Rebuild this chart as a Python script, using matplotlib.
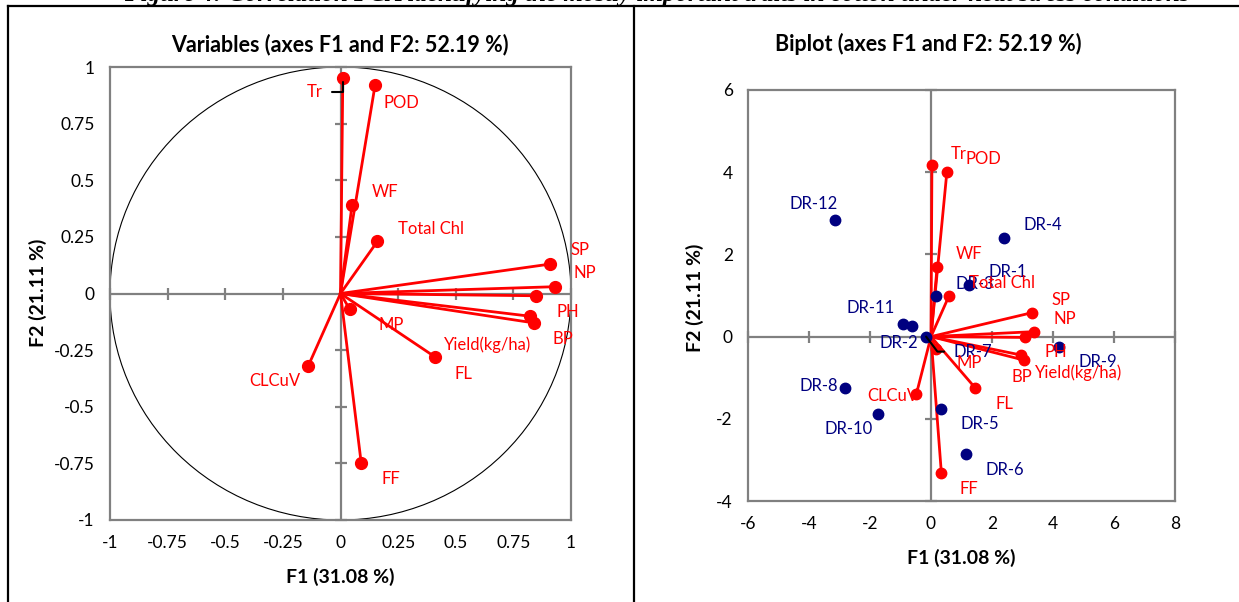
import matplotlib.pyplot as plt
import numpy as np
from matplotlib.lines import Line2D
from matplotlib.patches import Circle

plt.rcParams['font.family'] = ['Lato', 'DejaVu Sans']
plt.rcParams['axes.unicode_minus'] = False

# variable loadings (correlation circle)
variables = ['Tr', 'POD', 'WF', 'Total Chl', 'SP', 'NP', 'PH', 'BP', 'Yield(kg/ha)', 'FL', 'MP', 'CLCuV', 'FF']
f1_load = [0.01, 0.15, 0.05, 0.16, 0.91, 0.93, 0.85, 0.84, 0.82, 0.41, 0.04, -0.14, 0.09]
f2_load = [0.95, 0.92, 0.39, 0.23, 0.13, 0.03, -0.01, -0.13, -0.10, -0.28, -0.07, -0.32, -0.75]

# biplot vectors for the same variables
bi_f1 = [0.03, 0.52, 0.20, 0.59, 3.30, 3.37, 3.07, 3.04, 2.96, 1.44, 0.16, -0.48, 0.34]
bi_f2 = [4.18, 4.00, 1.69, 0.99, 0.58, 0.12, -0.02, -0.57, -0.45, -1.24, -0.30, -1.40, -3.32]

# genotype scores
genotypes = ['DR-1', 'DR-2', 'DR-3', 'DR-4', 'DR-5', 'DR-6', 'DR-7', 'DR-8', 'DR-9', 'DR-10', 'DR-11', 'DR-12']
obs_f1 = [1.24, -0.62, 0.16, 2.39, 0.34, 1.14, -0.16, -2.83, 4.20, -1.74, -0.92, -3.15]
obs_f2 = [1.25, 0.26, 0.98, 2.40, -1.77, -2.86, 0.00, -1.25, -0.25, -1.89, 0.31, 2.84]

# label offsets in pixels (where the labels sit next to their points)
off_left = {'Tr': (-28, -14), 'POD': (26, -18), 'WF': (33, 13), 'Total Chl': (54, 12), 'SP': (30, 14),
            'NP': (30, 14), 'PH': (31, -16), 'BP': (29, -16), 'Yield(kg/ha)': (-42, -29), 'FL': (28, -17),
            'MP': (41, -16), 'CLCuV': (-33, -15), 'FF': (30, -16)}
off_right = {'Tr': (27, 11), 'POD': (37, 13), 'WF': (32, 13), 'Total Chl': (53, 13), 'SP': (29, 13),
             'NP': (31, 13), 'PH': (31, -15), 'BP': (-2, -17), 'Yield(kg/ha)': (57, -18), 'FL': (30, -16),
             'MP': (33, -14), 'CLCuV': (-24, -2), 'FF': (28, -16)}
off_obs = {'DR-1': (39, 13), 'DR-2': (-13, -17), 'DR-3': (39, 12), 'DR-4': (39, 13), 'DR-5': (38, -15),
           'DR-6': (39, -16), 'DR-7': (47, -15), 'DR-8': (-26, 2), 'DR-9': (39, -15), 'DR-10': (-29, -15),
           'DR-11': (-32, 16), 'DR-12': (-21, 16)}

RED = '#FF0000'
NAVY = '#000080'
GRAY = '#808080'
LBL = 12

fig = plt.figure(figsize=(12.39, 6.02), dpi=100)

# table frame + cut caption
W, H = 1239, 602
fig.add_artist(Line2D([8 / W, 1], [1 - 6 / H, 1 - 6 / H], color='k', lw=1.6))
fig.add_artist(Line2D([8 / W, 8 / W], [0, 1 - 6 / H], color='k', lw=1.6))
fig.add_artist(Line2D([634 / W, 634 / W], [0, 1 - 6 / H], color='k', lw=1.6))
fig.text(0.53, 1 - 1 / H, 'Figure 4: Correlation PCA identifying the mostly important traits in cotton under heat stress conditions',
         ha='center', va='baseline', fontsize=18, fontweight='bold', fontstyle='italic',
         family=['Liberation Serif', 'DejaVu Serif'])


def style_axes(ax, xt, yt, xlim, ylim):
    ax.set_xlim(xlim)
    ax.set_ylim(ylim)
    ax.set_xticks(xt)
    ax.set_yticks(yt)
    ax.tick_params(length=0, pad=11, labelsize=12.5)
    for s in ax.spines.values():
        s.set_color(GRAY)
        s.set_linewidth(1.6)
    ax.axhline(0, color=GRAY, lw=1.6, zorder=1)
    ax.axvline(0, color=GRAY, lw=1.6, zorder=1)
    xt = np.array([t for t in xt if t != 0])
    yt = np.array([t for t in yt if t != 0])
    ax.plot(xt, np.zeros_like(xt), ls='none', marker='|', ms=8, mew=1.6, color=GRAY, zorder=1, clip_on=False)
    ax.plot(np.zeros_like(yt), yt, ls='none', marker='_', ms=8, mew=1.6, color=GRAY, zorder=1, clip_on=False)


# ---- left: correlation circle
ax1 = fig.add_axes([110 / W, 1 - 520 / H, 461 / W, 453 / H])
style_axes(ax1, [-1, -0.75, -0.5, -0.25, 0, 0.25, 0.5, 0.75, 1], [-1, -0.75, -0.5, -0.25, 0, 0.25, 0.5, 0.75, 1],
           (-1, 1), (-1, 1))
ax1.set_xticklabels(['-1', '-0.75', '-0.5', '-0.25', '0', '0.25', '0.5', '0.75', '1'])
ax1.set_yticklabels(['-1', '-0.75', '-0.5', '-0.25', '0', '0.25', '0.5', '0.75', '1'])
ax1.add_patch(Circle((0, 0), 1, fill=False, color='k', lw=0.8, zorder=2))
for name, x, y in zip(variables, f1_load, f2_load):
    ax1.plot([0, x], [0, y], color=RED, lw=2, zorder=3)
    ax1.plot(x, y, 'o', color=RED, ms=8.5, zorder=4)
    if name == 'Tr':
        ax1.annotate(name, (x, y), xytext=off_left[name], textcoords='offset pixels', ha='center', va='center',
                     color=RED, fontsize=LBL, zorder=5,
                     arrowprops=dict(arrowstyle='-', color='k', lw=1.5, relpos=(1, 0.5), shrinkA=5, shrinkB=3,
                                     connectionstyle='angle,angleA=0,angleB=90,rad=0'))
    else:
        ax1.annotate(name, (x, y), xytext=off_left[name], textcoords='offset pixels', ha='center', va='center',
                     color=RED, fontsize=LBL, zorder=5)

fig.text(340 / W, 1 - 45 / H, 'Variables (axes F1 and F2: 52.19 %)', ha='center', va='center',
         fontsize=15.5, fontweight='bold')
fig.text(340 / W, 1 - 577 / H, 'F1 (31.08 %)', ha='center', va='center', fontsize=14, fontweight='bold')
fig.text(38 / W, 1 - 293 / H, 'F2 (21.11 %)', ha='center', va='center', rotation=90, fontsize=14, fontweight='bold')

# ---- right: biplot
ax2 = fig.add_axes([748 / W, 1 - 501 / H, 427 / W, 411 / H])
style_axes(ax2, [-6, -4, -2, 0, 2, 4, 6, 8], [-4, -2, 0, 2, 4, 6], (-6, 8), (-4, 6))

for name, x, y in zip(genotypes, obs_f1, obs_f2):
    ax2.plot(x, y, 'o', color=NAVY, ms=7.5, zorder=5)
    if name == 'DR-7':
        ax2.annotate(name, (x, y), xytext=off_obs[name], textcoords='offset pixels', ha='center', va='center',
                     color=NAVY, fontsize=LBL, zorder=6,
                     arrowprops=dict(arrowstyle='-', color='k', lw=1.5, relpos=(0, 0.5), shrinkA=5, shrinkB=0,
                                     connectionstyle='angle,angleA=0,angleB=-53,rad=0'))
    else:
        ax2.annotate(name, (x, y), xytext=off_obs[name], textcoords='offset pixels', ha='center', va='center',
                     color=NAVY, fontsize=LBL, zorder=6)

for name, x, y in zip(variables, bi_f1, bi_f2):
    ax2.plot([0, x], [0, y], color=RED, lw=2, zorder=3)
    ax2.plot(x, y, 'o', color=RED, ms=7.5, zorder=4)
    ax2.annotate(name, (x, y), xytext=off_right[name], textcoords='offset pixels', ha='center', va='center',
                 color=RED, fontsize=LBL, zorder=7)

fig.text(928 / W, 1 - 44 / H, 'Biplot (axes F1 and F2: 52.19 %)', ha='center', va='center',
         fontsize=15.5, fontweight='bold')
fig.text(961 / W, 1 - 558 / H, 'F1 (31.08 %)', ha='center', va='center', fontsize=14, fontweight='bold')
fig.text(695 / W, 1 - 298 / H, 'F2 (21.11 %)', ha='center', va='center', rotation=90, fontsize=14, fontweight='bold')

fig.savefig('out.png', dpi=100)
